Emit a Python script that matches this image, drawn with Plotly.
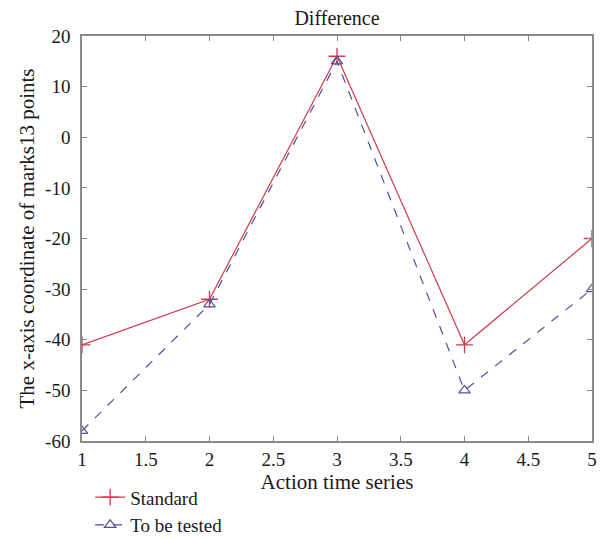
import plotly.graph_objects as go

x_vals = [1, 2, 3, 4, 5]
standard = [-41, -32, 16, -41, -20]
tested = [-58, -33, 15, -50, -30]
x_ticks = [1, 1.5, 2, 2.5, 3, 3.5, 4, 4.5, 5]
x_tick_text = ["1", "1.5", "2", "2.5", "3", "3.5", "4", "4.5", "5"]
y_ticks = [-60, -50, -40, -30, -20, -10, 0, 10, 20]
y_tick_text = ["-60", "-50", "-40", "-30", "-20", "-10", "0", "10", "20"]

FONT = "Liberation Serif"
RED = "#d03a4a"
BLUE = "#4f519e"
TXT = "#1a1a1a"

fig = go.Figure()
fig.add_trace(go.Scatter(
    x=x_vals, y=standard, name="Standard", mode="lines+markers",
    line=dict(color=RED, width=1.2),
    marker=dict(symbol="cross-thin", size=12, line=dict(color=RED, width=1.3)),
))
fig.add_trace(go.Scatter(
    x=x_vals, y=tested, name="To be tested", mode="lines+markers",
    line=dict(color=BLUE, width=1.2, dash="dash"),
    marker=dict(symbol="triangle-up-open", size=10, color=BLUE, line=dict(color=BLUE, width=1.2)),
))

axis_common = dict(
    showgrid=False, zeroline=False, showline=True, linecolor="#8a8a8a", linewidth=1.5,
    mirror="ticks", ticks="inside", ticklen=5, tickcolor="#8a8a8a",
    tickfont=dict(family=FONT, size=19, color=TXT),
)

# page has an 8px body margin; figure sized to fit the 606x539 viewport
fig.update_layout(
    width=598, height=531,
    margin=dict(l=74, r=14, t=28, b=98, autoexpand=False),
    paper_bgcolor="white", plot_bgcolor="white",
    title=dict(text="Difference", x=(74 + 255) / 598, xanchor="center",
               y=1 - 10 / 531, yanchor="middle",
               font=dict(family=FONT, size=20, color=TXT)),
    xaxis=dict(range=[1, 5], tickvals=x_ticks, ticktext=x_tick_text,
               title=dict(text="Action time series", font=dict(family=FONT, size=21, color=TXT), standoff=4),
               ticklabelstandoff=0,
               **axis_common),
    yaxis=dict(range=[-60, 20], tickvals=y_ticks, ticktext=y_tick_text,
               title=dict(text="The x-axis coordinate of marks13 points", font=dict(family=FONT, size=21, color=TXT), standoff=5),
               ticklabelstandoff=6,
               **axis_common),
    legend=dict(x=0.016, y=-0.092, xanchor="left", yanchor="top",
                font=dict(family=FONT, size=19, color=TXT),
                bgcolor="rgba(0,0,0,0)", tracegroupgap=0),
    showlegend=True,
)

fig.write_html("out.html")
